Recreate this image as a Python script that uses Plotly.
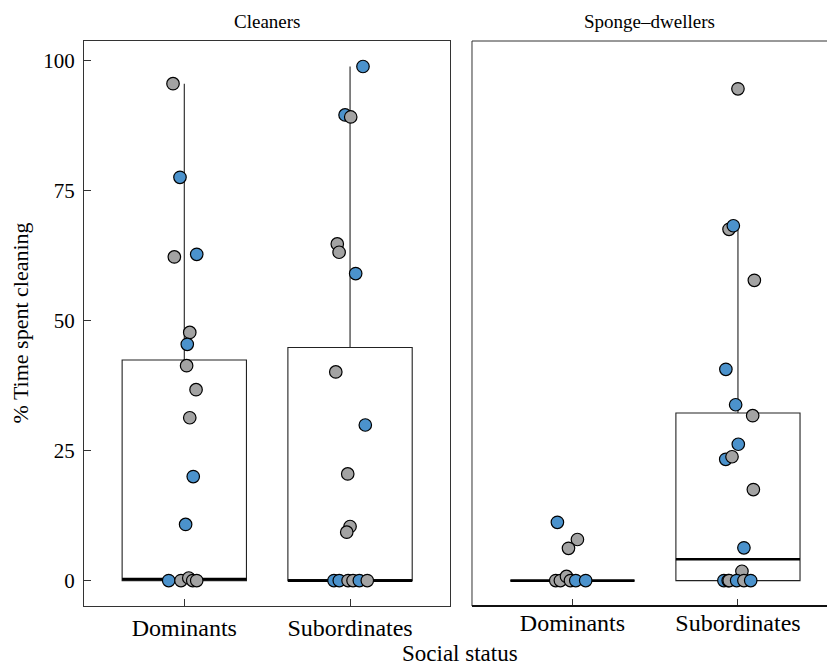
import plotly.graph_objects as go

# ---- data -------------------------------------------------------------
status_labels = ["Dominants", "Subordinates"]
facet_titles = ["Cleaners", "Sponge\u2013dwellers"]

# % time spent cleaning, individual fish (jitter = horizontal offset in category units)
clean_dom_vals = [95.5, 77.5, 62.2, 62.7, 47.7, 45.4, 41.3, 36.7, 31.3, 20.0, 10.8, 0, 0, 0.5, 0, 0]
clean_dom_grp = ["g", "b", "g", "b", "g", "b", "g", "g", "g", "b", "b", "b", "g", "g", "g", "g"]
clean_dom_jit = [-0.068, -0.026, -0.060, 0.075, 0.033, 0.018, 0.014, 0.071, 0.033, 0.054, 0.008,
                 -0.094, -0.020, 0.027, 0.051, 0.075]

clean_sub_vals = [98.8, 89.5, 89.1, 64.7, 63.1, 59.0, 40.1, 29.9, 20.5, 10.4, 9.3, 0, 0, 0, 0, 0, 0]
clean_sub_grp = ["b", "b", "g", "g", "g", "b", "g", "b", "g", "g", "g", "b", "b", "g", "g", "b", "g"]
clean_sub_jit = [0.078, -0.030, 0.004, -0.077, -0.066, 0.034, -0.086, 0.092, -0.014, 0.0, -0.020,
                 -0.097, -0.065, -0.012, 0.018, 0.056, 0.104]

sponge_dom_vals = [11.2, 7.9, 6.2, 0, 0, 0.8, 0, 0, 0]
sponge_dom_grp = ["b", "g", "g", "g", "g", "g", "g", "b", "b"]
sponge_dom_jit = [-0.091, 0.030, -0.024, -0.101, -0.073, -0.036, -0.012, 0.020, 0.080]

sponge_sub_vals = [94.5, 67.5, 68.2, 57.7, 40.6, 33.8, 31.7, 26.2, 23.3, 23.8, 17.5, 6.3, 1.8,
                   0, 0, 0, 0, 0, 0]
sponge_sub_grp = ["g", "g", "b", "g", "b", "b", "g", "b", "b", "g", "g", "b", "g",
                  "b", "b", "g", "b", "g", "b"]
sponge_sub_jit = [0.0, -0.054, -0.028, 0.099, -0.073, -0.014, 0.089, 0.002, -0.074, -0.036, 0.093,
                  0.036, 0.024, -0.085, -0.059, -0.053, -0.008, 0.036, 0.077]

# box summaries: q1, median, q3, upper whisker end
clean_box = {"q1": [0, 0], "med": [0.3, 0], "q3": [42.4, 44.8], "hi": [95.5, 98.8]}
sponge_box = {"q1": [0, 0], "med": [0, 4.1], "q3": [0, 32.2], "hi": [0, 68.2]}

y_ticks = [0, 25, 50, 75, 100]

# ---- styling ----------------------------------------------------------
FONT = "Liberation Serif"
GREY = "#a3a3a3"
BLUE = "#4b92cc"
FRAME = "#333333"
BOX_W = 0.75
colour = {"g": GREY, "b": BLUE}

fig = go.Figure()


def add_panel(xa, ya, box, groups):
    for i in range(2):
        fig.add_trace(go.Box(
            x=[i], q1=[box["q1"][i]], median=[box["med"][i]], q3=[box["q3"][i]],
            lowerfence=[box["q1"][i]], upperfence=[box["hi"][i]],
            width=BOX_W, whiskerwidth=0, fillcolor="white",
            line=dict(color="#222222", width=1.1), boxpoints=False,
            xaxis=xa, yaxis=ya, showlegend=False, hoverinfo="skip"))
        # heavier median bar
        fig.add_trace(go.Scatter(
            x=[i - BOX_W / 2, i + BOX_W / 2], y=[box["med"][i]] * 2, mode="lines",
            line=dict(color="black", width=2.6), xaxis=xa, yaxis=ya,
            showlegend=False, hoverinfo="skip"))
    for i, (vals, grp, jit) in enumerate(groups):
        fig.add_trace(go.Scatter(
            x=[i + j for j in jit], y=vals, mode="markers",
            marker=dict(size=12.5, color=[colour[g] for g in grp],
                        line=dict(color="black", width=1.2)),
            xaxis=xa, yaxis=ya, showlegend=False, hoverinfo="skip"))


add_panel("x", "y", clean_box, [(clean_dom_vals, clean_dom_grp, clean_dom_jit),
                                (clean_sub_vals, clean_sub_grp, clean_sub_jit)])
add_panel("x2", "y2", sponge_box, [(sponge_dom_vals, sponge_dom_grp, sponge_dom_jit),
                                   (sponge_sub_vals, sponge_sub_grp, sponge_sub_jit)])

xcommon = dict(tickmode="array", tickvals=[0, 1], ticktext=status_labels, ticks="inside",
               ticklen=7, tickcolor=FRAME, showgrid=False, zeroline=False,
               tickfont=dict(family=FONT, size=24, color="black"), ticklabelstandoff=0)
y_range = [-4.88, 103.7]

fig.update_layout(
    width=827, height=666,
    margin=dict(l=84, r=0, t=41, b=60),
    paper_bgcolor="white", plot_bgcolor="white",
    xaxis=dict(domain=[0, 0.4926], range=[-0.605, 1.603], showline=True, mirror=True,
               linecolor=FRAME, linewidth=1, **xcommon),
    xaxis2=dict(domain=[0.5222, 1], range=[-0.607, 1.538], showline=False, anchor="y2",
                **xcommon),
    yaxis=dict(range=y_range, tickmode="array", tickvals=y_ticks, ticks="inside", ticklen=7,
               tickcolor=FRAME, showgrid=False, zeroline=False, showline=True, mirror=True,
               linecolor=FRAME, linewidth=1, ticklabelstandoff=4,
               tickfont=dict(family=FONT, size=21, color="black")),
    yaxis2=dict(range=y_range, anchor="x2", showgrid=False, zeroline=False, showline=False,
                showticklabels=False, ticks=""),
    # open-sided frame of the second panel: left and top edges, heavier base line
    shapes=[
        dict(type="line", xref="x2 domain", yref="y2 domain", x0=0, x1=0, y0=0, y1=1,
             line=dict(color=FRAME, width=1)),
        dict(type="line", xref="x2 domain", yref="y2 domain", x0=0, x1=1, y0=1, y1=1,
             line=dict(color=FRAME, width=1)),
        dict(type="line", xref="x2 domain", yref="y2 domain", x0=0, x1=1, y0=0, y1=0,
             line=dict(color="#111111", width=2)),
    ],
)

annotations = []
for xa, title in zip(["x domain", "x2 domain"], facet_titles):
    annotations.append(dict(text=title, xref=xa, yref="paper", x=0.5, y=1, yanchor="middle",
                            yshift=20, showarrow=False,
                            font=dict(family=FONT, size=19, color="black")))
annotations.append(dict(text="% Time spent cleaning", xref="paper", yref="paper", x=0, y=0.5,
                        xshift=-64, textangle=-90, showarrow=False, xanchor="center",
                        yanchor="middle", font=dict(family=FONT, size=22, color="black")))
annotations.append(dict(text="Social status", xref="paper", yref="paper", x=0.5067, y=0,
                        yshift=-47, showarrow=False, yanchor="middle",
                        font=dict(family=FONT, size=23, color="black")))
fig.update_layout(annotations=annotations)

fig.write_html("out.html")
